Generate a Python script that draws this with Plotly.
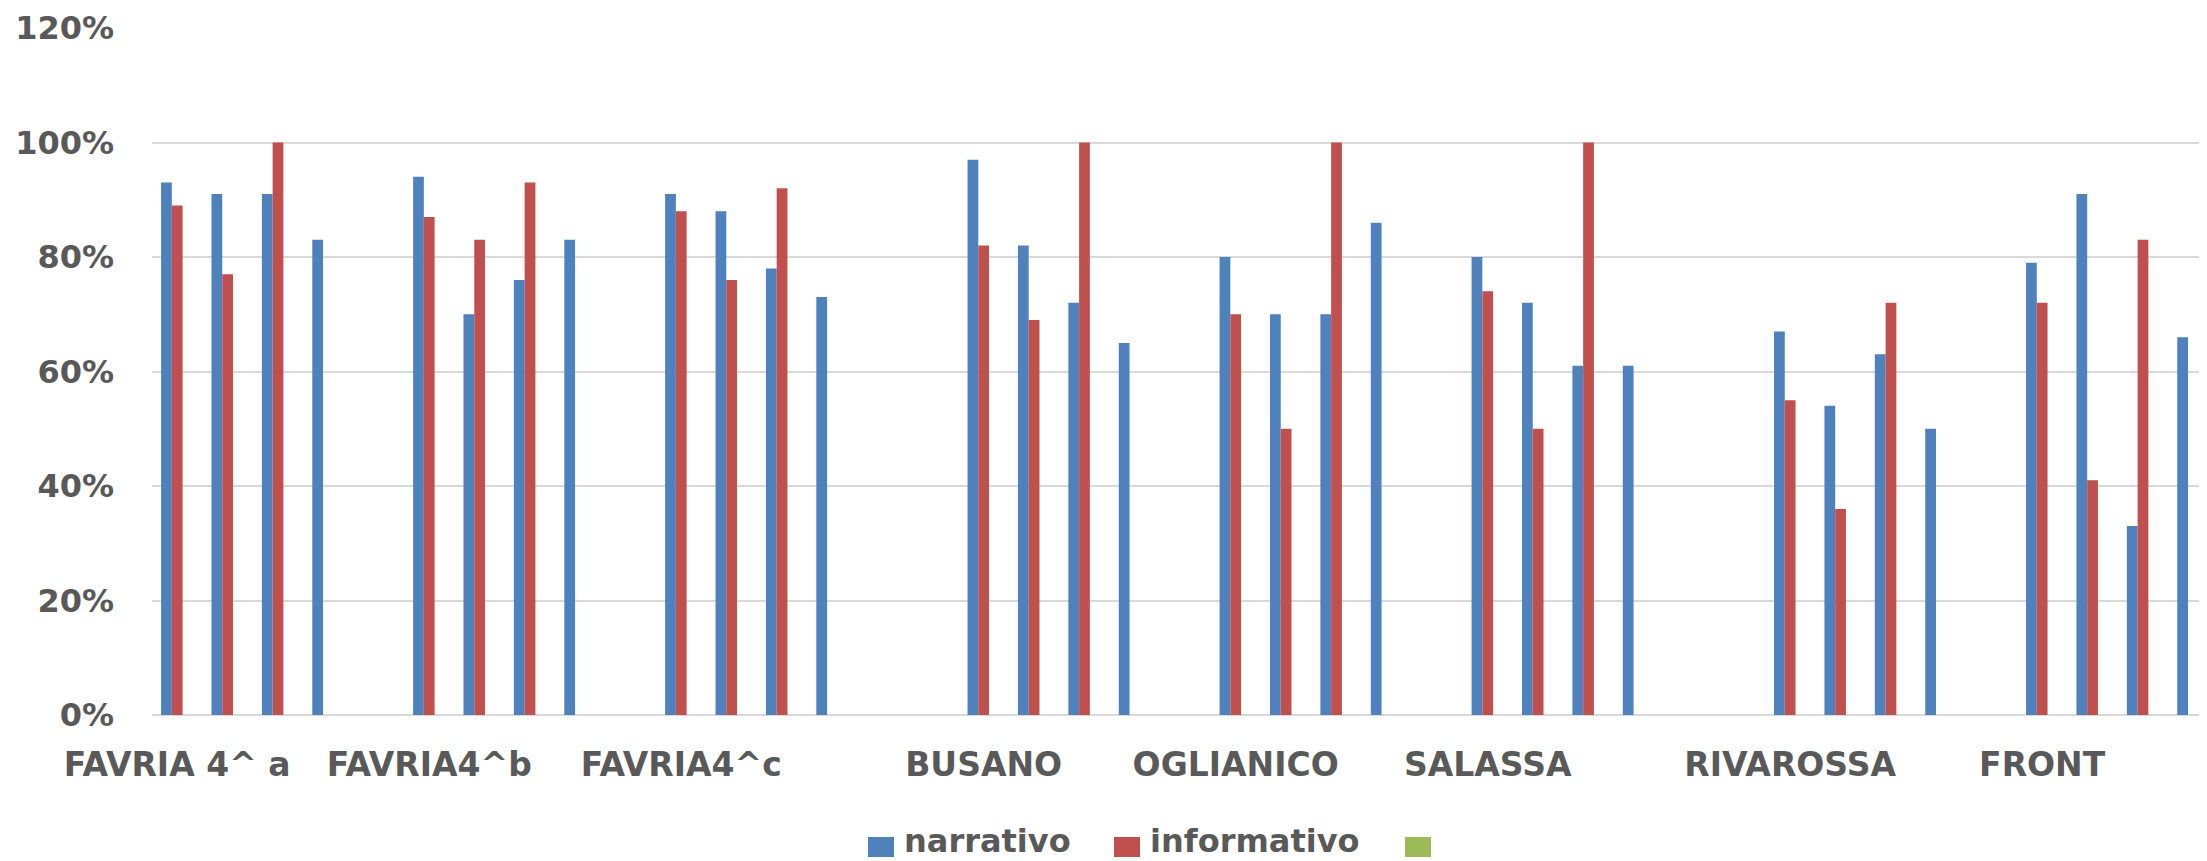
import plotly.graph_objects as go

# ---- data ----
labels = ["FAVRIA 4^ a", "", "", "", "",
          "FAVRIA4^b", "", "", "", "",
          "FAVRIA4^c", "", "", "", "", "",
          "BUSANO", "", "", "", "",
          "OGLIANICO", "", "", "", "",
          "SALASSA", "", "", "", "", "",
          "RIVAROSSA", "", "", "", "",
          "FRONT", "", "", ""]

narrativo = [93, 91, 91, 83, None,
             94, 70, 76, 83, None,
             91, 88, 78, 73, None, None,
             97, 82, 72, 65, None,
             80, 70, 70, 86, None,
             80, 72, 61, 61, None, None,
             67, 54, 63, 50, None,
             79, 91, 33, 66]

informativo = [89, 77, 100, None, None,
               87, 83, 93, None, None,
               88, 76, 92, None, None, None,
               82, 69, 100, None, None,
               70, 50, 100, None, None,
               74, 50, 100, None, None, None,
               55, 36, 72, None, None,
               72, 41, 83, None]

terzo = [None] * len(labels)   # third (unnamed, empty) series

series_names = ["narrativo", "informativo", ""]
colors = ["#4F81BD", "#C0504D", "#9BBB59"]

x = list(range(len(labels)))
tick_idx = [i for i, t in enumerate(labels) if t]
tick_txt = [labels[i] for i in tick_idx]

# page is 2207x861; the html body has an 8px default margin, so the figure is
# made 8px smaller and all page pixel positions are offset by 8.
OFF = 8
PAGE_W, PAGE_H = 2207, 861
W, H = PAGE_W - OFF, PAGE_H - OFF
PLOT_L, PLOT_R, PLOT_T, PLOT_B = 152, 2207, 28, 715   # page pixels
L = PLOT_L - OFF
R = PAGE_W - PLOT_R
T = PLOT_T - OFF
B = PAGE_H - PLOT_B
pw, ph = PLOT_R - PLOT_L, PLOT_B - PLOT_T

fig = go.Figure()
for name, vals, col in zip(series_names, [narrativo, informativo, terzo], colors):
    fig.add_trace(go.Bar(x=x, y=vals, name=name, marker=dict(color=col, line=dict(width=0)),
                         showlegend=False))

font_fam = "DejaVu Sans"
txt_col = "#595959"

fig.update_layout(
    width=W, height=H,
    margin=dict(l=L, r=R, t=T, b=B, pad=0),
    paper_bgcolor="white", plot_bgcolor="white",
    barmode="group", bargap=0.36, bargroupgap=0,
    font=dict(family=font_fam, color=txt_col, size=32, weight="bold"),
    xaxis=dict(range=[-0.5, 40.27],
               tickmode="array", tickvals=tick_idx, ticktext=tick_txt,
               showgrid=False, zeroline=False, showline=False, ticks="",
               ticklabelstandoff=27,
               tickfont=dict(family=font_fam, size=33, color=txt_col, weight="bold")),
    yaxis=dict(range=[0, 120], dtick=20, ticksuffix="%",
               showgrid=True, gridcolor="#D9D9D9", gridwidth=2,
               zeroline=True, zerolinecolor="#D9D9D9", zerolinewidth=2,
               showline=False, ticks="", ticklabelstandoff=37,
               tickfont=dict(family=font_fam, size=32, color=txt_col, weight="bold")),
)

# ---- manual legend (Excel style large squares) ----
def px_x(p):
    return (p - PLOT_L) / pw

def px_y(p):
    return (PLOT_B - p) / ph

legend_items = [("narrativo", colors[0], 868), ("informativo", colors[1], 1114), ("", colors[2], 1405)]
for name, col, x0 in legend_items:
    fig.add_shape(type="rect", xref="paper", yref="paper",
                  x0=px_x(x0), x1=px_x(x0 + 26), y0=px_y(857), y1=px_y(837),
                  fillcolor=col, line=dict(width=0))
    if name:
        fig.add_annotation(xref="paper", yref="paper", x=px_x(x0 + 34), y=px_y(841),
                           xanchor="left", yanchor="middle", text=name, showarrow=False,
                           font=dict(family=font_fam, size=32, color=txt_col, weight="bold"))

fig.write_html("out.html")
